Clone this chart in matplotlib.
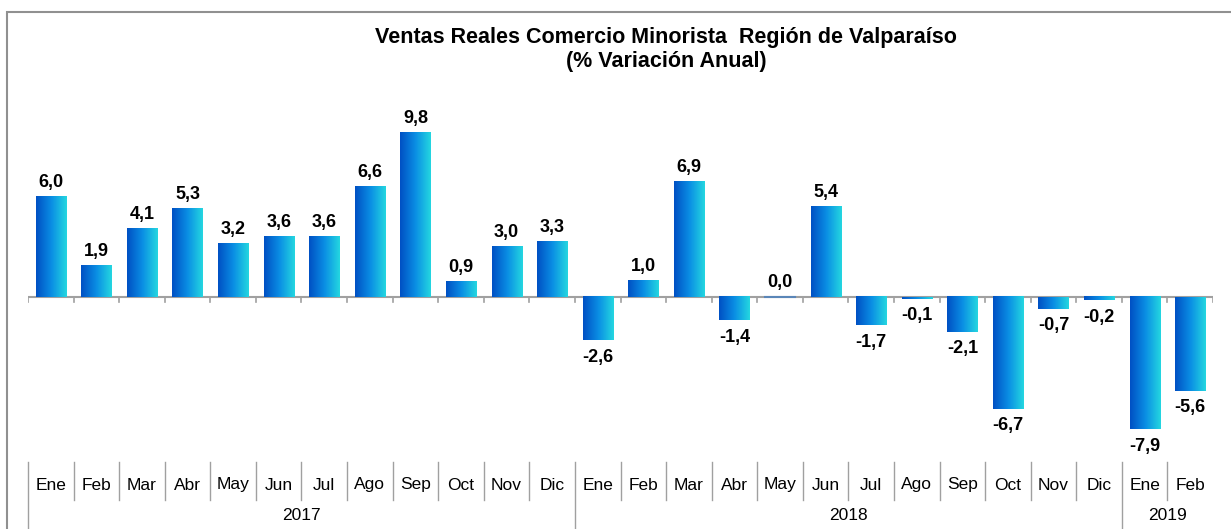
import numpy as np
import matplotlib
matplotlib.use("Agg")
import matplotlib.pyplot as plt
from matplotlib.colors import LinearSegmentedColormap
from matplotlib.patches import Rectangle
from matplotlib.transforms import blended_transform_factory

plt.rcParams['font.family'] = ['Liberation Sans', 'DejaVu Sans']

# Data
months = ["Ene", "Feb", "Mar", "Abr", "May", "Jun", "Jul", "Ago", "Sep", "Oct", "Nov", "Dic",
          "Ene", "Feb", "Mar", "Abr", "May", "Jun", "Jul", "Ago", "Sep", "Oct", "Nov", "Dic",
          "Ene", "Feb"]
years = ["2017", "2018", "2019"]
year_counts = [12, 12, 2]
values = [6.0, 1.9, 4.1, 5.3, 3.2, 3.6, 3.6, 6.6, 9.8, 0.9, 3.0, 3.3,
          -2.6, 1.0, 6.9, -1.4, 0.0, 5.4, -1.7, -0.1, -2.1, -6.7, -0.7, -0.2,
          -7.9, -5.6]

W, H = 1231, 529
fig = plt.figure(figsize=(W / 100, H / 100), dpi=100)
ax = fig.add_axes([28 / W, 1 - 445 / H, (1213 - 28) / W, 335 / H])

n = len(values)
ax.set_xlim(-0.5, n - 0.5)
ax.set_ylim(-8.84, 11.16)
ax.axis("off")

cmap = LinearSegmentedColormap.from_list("grad", ["#0050c4", "#0a8ee4", "#24d6e0"])
grad = np.linspace(0, 1, 64).reshape(1, -1)
bw = 0.66
for i, v in enumerate(values):
    x0, x1 = i - bw / 2, i + bw / 2
    lo, hi = min(0, v), max(0, v)
    if hi - lo < 0.05:
        ax.plot([x0, x1], [0, 0], color="#5a86b8", lw=1.5, zorder=3)
    else:
        ax.imshow(grad, cmap=cmap, aspect="auto", extent=(x0, x1, lo, hi),
                  interpolation="bilinear", zorder=2)
    label = f"{v:.1f}".replace(".", ",")
    if v >= 0:
        ax.annotate(label, (i, v), xytext=(0, 4), textcoords="offset points",
                    ha="center", va="bottom", fontsize=13, fontweight="bold")
    else:
        ax.annotate(label, (i, v), xytext=(0, -6), textcoords="offset points",
                    ha="center", va="top", fontsize=13, fontweight="bold")

# zero axis with ticks
ax.plot([-0.5, n - 0.5], [0, 0], color="#a0a0a0", lw=1.5, zorder=1)
for b in np.arange(-0.5, n, 1.0):
    ax.plot([b, b], [0, -0.3], color="#a0a0a0", lw=1.2, zorder=1)

# category table below
tr = blended_transform_factory(ax.transData, fig.transFigure)
year_bounds = np.cumsum([0] + year_counts) - 0.5
for b in np.arange(-0.5, n - 0.5, 1.0):
    if b in year_bounds:
        ax.plot([b, b], [1 - 462 / H, 0], transform=tr, color="#a0a0a0", lw=1, clip_on=False)
    else:
        ax.plot([b, b], [1 - 462 / H, 1 - 500 / H], transform=tr, color="#a0a0a0", lw=1, clip_on=False)
for i, m in enumerate(months):
    ax.text(i, 1 - 485 / H, m, transform=tr, ha="center", va="center", fontsize=12.5)
for k, y in enumerate(years):
    c = (year_bounds[k] + year_bounds[k + 1]) / 2
    ax.text(c, 1 - 516 / H, y, transform=tr, ha="center", va="center", fontsize=12.5)

# title
fig.text(666 / W, 1 - 38 / H, "Ventas Reales Comercio Minorista  Región de Valparaíso",
         ha="center", va="center", fontsize=15.5, fontweight="bold")
fig.text(666 / W, 1 - 62 / H, "(% Variación Anual)",
         ha="center", va="center", fontsize=15.5, fontweight="bold")

# outer border
fig.patches.append(Rectangle((7 / W, -0.1), 1.2, 1 - 12 / H + 0.1, transform=fig.transFigure,
                             fill=False, edgecolor="#909090", lw=1.5))

fig.savefig("out.png", dpi=100)
